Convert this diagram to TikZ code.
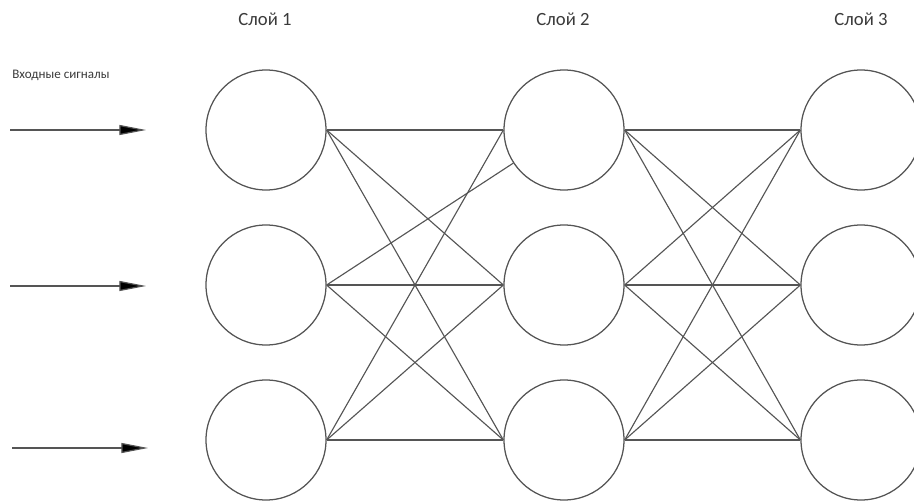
\documentclass[tikz,border=0pt]{standalone}
\usepackage{fontspec}
\setmainfont{Carlito}
\usetikzlibrary{arrows.meta}
\definecolor{linegray}{HTML}{555555}
\definecolor{textgray}{HTML}{3A3A3A}
\tikzset{
  neuron/.style={circle, draw=linegray, line width=0.95pt, minimum size=90pt, inner sep=0pt},
  link/.style={draw=linegray, line width=0.85pt},
  inarrow/.style={draw=linegray, line width=0.9pt, -{Triangle[length=20pt,width=7.5pt,fill=black]}},
  layerlabel/.style={text=textgray, font=\fontsize{14pt}{16pt}\selectfont, inner sep=0pt},
  inlabel/.style={text=textgray, font=\fontsize{9.8pt}{11pt}\selectfont, inner sep=0pt, anchor=west}
}
\begin{document}
\begin{tikzpicture}[x=0.75pt, y=-0.75pt]
\useasboundingbox (0,0) rectangle (914,502);
% labels
\node[layerlabel] (l1) at (265,19) {Слой 1};
\node[layerlabel] (l2) at (563,19) {Слой 2};
\node[layerlabel] (l3) at (861,19) {Слой 3};
\node[inlabel] (inp) at (12,75) {Входные сигналы};
% neurons
\node[neuron] (a1) at (266,130) {};
\node[neuron] (a2) at (266,285) {};
\node[neuron] (a3) at (266,440) {};
\node[neuron] (b1) at (564,130) {};
\node[neuron] (b2) at (564,285) {};
\node[neuron] (b3) at (564,440) {};
\node[neuron] (c1) at (861,130) {};
\node[neuron] (c2) at (861,285) {};
\node[neuron] (c3) at (861,440) {};
% input arrows
\coordinate (s1) at (10,130); \coordinate (e1) at (146,130);
\coordinate (s2) at (10,286); \coordinate (e2) at (146,286);
\coordinate (s3) at (12,448); \coordinate (e3) at (148,448);
\draw[inarrow] (s1) -- (e1);
\draw[inarrow] (s2) -- (e2);
\draw[inarrow] (s3) -- (e3);
% layer 1 -> layer 2
\draw[link] (a1.east) -- (b1.west);
\draw[link] (a1.east) -- (b2.west);
\draw[link] (a1.east) -- (b3.west);
\draw[link] (a2.east) -- (b1);
\draw[link] (a2.east) -- (b2.west);
\draw[link] (a2.east) -- (b3.west);
\draw[link] (a3.east) -- (b1.west);
\draw[link] (a3.east) -- (b2.west);
\draw[link] (a3.east) -- (b3.west);
% layer 2 -> layer 3
\draw[link] (b1.east) -- (c1.west);
\draw[link] (b1.east) -- (c2.west);
\draw[link] (b1.east) -- (c3.west);
\draw[link] (b2.east) -- (c1.west);
\draw[link] (b2.east) -- (c2.west);
\draw[link] (b2.east) -- (c3.west);
\draw[link] (b3.east) -- (c1.west);
\draw[link] (b3.east) -- (c2.west);
\draw[link] (b3.east) -- (c3.west);
\end{tikzpicture}
\end{document}
